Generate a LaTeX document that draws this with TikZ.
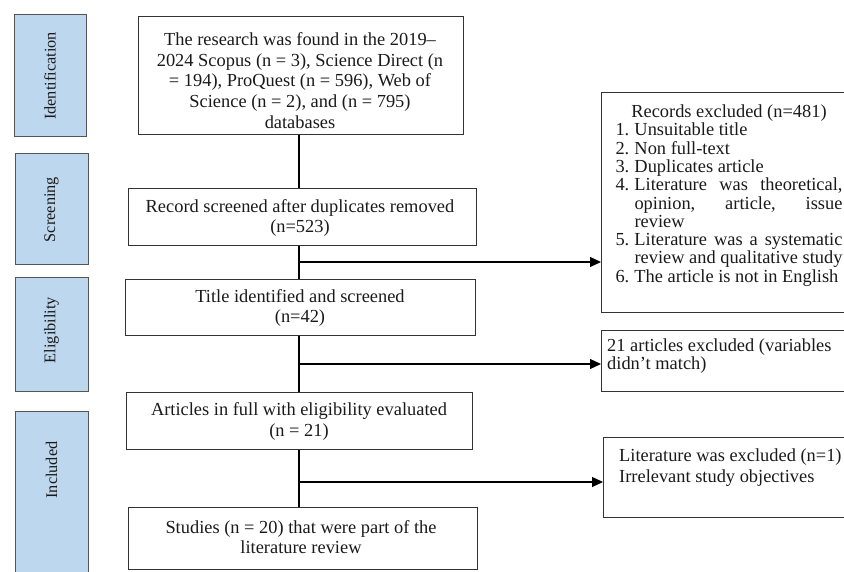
\documentclass[tikz,border=0pt]{standalone}
\usepackage{fontspec}
\setmainfont{Liberation Serif}
\usetikzlibrary{arrows.meta,calc}
\definecolor{phasefill}{HTML}{BDD7EE}
\definecolor{phaseline}{HTML}{555555}
\definecolor{boxline}{HTML}{333333}
\definecolor{ink}{HTML}{1A1A1A}
\newlength\recw \setlength\recw{227pt}
\newlength\recin \setlength\recin{19pt}
\newlength\recrest \setlength\recrest{208pt}
\tikzset{
  phase/.style={draw=phaseline, fill=phasefill, line width=1pt, inner sep=0pt},
  plabel/.style={font=\fontsize{16.3}{18}\selectfont, rotate=90, text=ink, inner sep=0pt},
  stepbox/.style={draw=boxline, line width=0.9pt, anchor=north west, inner sep=0pt},
  txt/.style={font=\fontsize{18.4}{20.7}\selectfont, align=center, inner sep=0pt, text=ink},
  link/.style={draw=black, line width=1.1pt},
  arr/.style={link, -{Triangle[length=11pt,width=10pt]}}
}
\begin{document}
\begin{tikzpicture}[x=1pt,y=-1pt]
\useasboundingbox (0,0) rectangle (844,572);

% phase boxes
\node[phase, rotate=90, minimum width=122pt, minimum height=72pt] (pid) at (50,76) {};
\node[plabel] at (pid.center) {Identification};
\node[phase, rotate=90, minimum width=111pt, minimum height=73pt] (psc) at (51.5,209.5) {};
\node[plabel] at (psc.center) {Screening};
\node[phase, rotate=90, minimum width=113pt, minimum height=73pt] (pel) at (51.5,334.5) {};
\node[plabel] at (51.5,330) {Eligibility};
\node[phase, rotate=90, minimum width=172pt, minimum height=73pt] (pin) at (51.5,497) {};
\node[plabel] at (51.5,470) {Included};

% main boxes
\node[stepbox, minimum width=325pt, minimum height=118pt] (b1) at (138,16) {};
\node[txt] at (300,80.5) {The research was found in the 2019–\\2024 Scopus (n = 3), Science Direct (n\\= 194), ProQuest (n = 596), Web of\\Science (n = 2), and (n = 795)\\databases};

\node[stepbox, minimum width=348pt, minimum height=57pt] (b2) at (128,188) {};
\node[txt] at (300,218) {Record screened after duplicates removed\\(n=523)};

\node[stepbox, minimum width=350pt, minimum height=56pt] (b3) at (125,279) {};
\node[txt] at (300,308) {Title identified and screened\\(n=42)};

\node[stepbox, minimum width=346pt, minimum height=57pt] (b4) at (126,392) {};
\node[txt] at (299,421.5) {Articles in full with eligibility evaluated\\(n = 21)};

\node[stepbox, minimum width=349pt, minimum height=62pt] (b5) at (128,507) {};
\node[txt] at (301,537) {Studies (n = 20) that were part of the\\literature review};

% exclusion boxes
\node[stepbox, minimum width=250pt, minimum height=220pt] (ex1) at (601,92) {};
\node[txt, align=left, font=\fontsize{18.4}{18.3}\selectfont] at (729,195.5) {%
\makebox[\recw][c]{Records excluded (n=481)}\\
\makebox[\recin][l]{1.}Unsuitable title\\
\makebox[\recin][l]{2.}Non full-text\\
\makebox[\recin][l]{3.}Duplicates article\\
\makebox[\recin][l]{4.}\makebox[\recrest][s]{Literature was theoretical,}\\
\hspace*{\recin}\makebox[\recrest][s]{opinion, article, issue}\\
\hspace*{\recin}review\\
\makebox[\recin][l]{5.}\makebox[\recrest][s]{Literature was a systematic}\\
\hspace*{\recin}review and qualitative study\\
\makebox[\recin][l]{6.}The article is not in English};

\node[stepbox, minimum width=250pt, minimum height=61pt] (ex2) at (601,330) {};
\node[txt, align=left, anchor=west, font=\fontsize{18.4}{18.3}\selectfont] at (607,356) {21 articles excluded (variables\\didn’t match)};

\node[stepbox, minimum width=250pt, minimum height=80pt] (ex3) at (603,437) {};
\node[txt, align=left, anchor=west, font=\fontsize{18.4}{21}\selectfont] at (619,468) {Literature was excluded (n=1)\\Irrelevant study objectives};

% spine and branches
\coordinate (sp) at (299,0);
\draw[link] (b1.south -| sp) -- (b2.north -| sp);
\draw[link] (b2.south -| sp) -- (b3.north -| sp);
\draw[link] (b3.south -| sp) -- (b4.north -| sp);
\draw[link] (b4.south -| sp) -- (b5.north -| sp);
\coordinate (j1) at (299,262);
\coordinate (j2) at (299,364);
\coordinate (j3) at (299,482);
\draw[arr] (j1) -- (j1 -| ex1.west);
\draw[arr] (j2) -- (j2 -| ex2.west);
\draw[arr] (j3) -- (j3 -| ex3.west);
\end{tikzpicture}
\end{document}
